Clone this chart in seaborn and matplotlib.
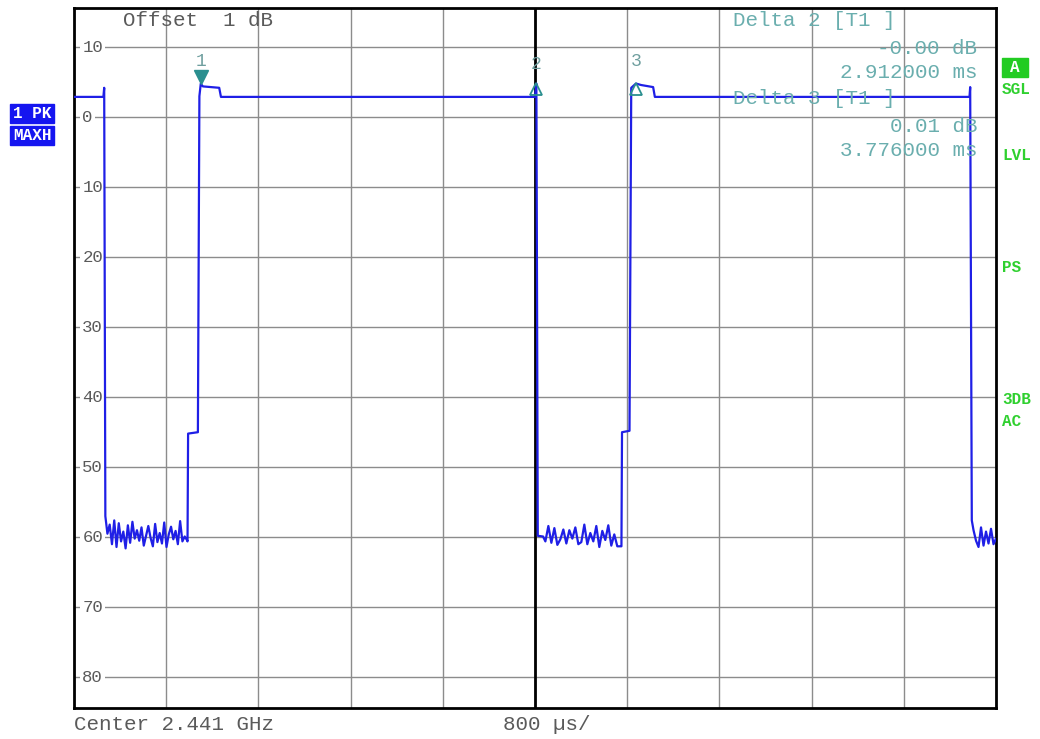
import numpy as np
import pandas as pd
import matplotlib
matplotlib.use("Agg")
import matplotlib.pyplot as plt
import matplotlib.transforms as mtransforms
from matplotlib.patches import Rectangle
import seaborn as sns

# ---- sweep / display settings ----
sweep_ms = 8.0
div_ms = 0.8
level_top_db = 15.6
level_bottom_db = -84.4
level_ticks = [10, 0, -10, -20, -30, -40, -50, -60, -70, -80]
level_tick_labels = ["10", "0", "10", "20", "30", "40", "50", "60", "70", "80"]

# ---- trace (time in ms, level in dB) ----
lead_ms = [0.000, 0.255, 0.262, 0.272]
lead_db = [2.9, 2.9, 4.2, -57.0]

noise1_db = [-59.5, -58.2, -61.0, -57.6, -61.4, -58.0, -60.6, -59.2, -61.6,
             -58.3, -60.8, -57.8, -60.2, -59.0, -60.5, -58.6, -61.2, -59.8,
             -58.4, -60.1, -61.3, -58.1, -60.7, -59.4, -60.9, -57.9, -61.4,
             -59.6, -58.5, -60.3, -59.1, -61.0, -57.7, -60.6, -59.9, -60.4]
noise1_span = (0.290, 0.980)

burst1_ms = [0.985, 0.990, 1.075, 1.088, 1.100, 1.118, 1.260, 1.275,
             4.000, 4.012, 4.024, 4.070]
burst1_db = [-60.6, -45.2, -45.0, 3.0, 4.80, 4.4, 4.2, 2.9,
             2.9, 4.798, -59.8, -59.9]

noise2_db = [-60.6, -58.4, -60.8, -58.7, -61.1, -60.3, -58.9, -60.9, -59.0,
             -60.2, -58.6, -61.0, -60.7, -58.2, -61.0, -59.4, -60.6, -58.4,
             -61.4, -59.1, -60.4, -58.3, -61.2, -59.6, -61.3, -61.3]
noise2_span = (4.090, 4.740)

burst2_ms = [4.750, 4.755, 4.820, 4.835, 4.876, 4.920, 4.990, 5.025,
             5.040, 7.770, 7.776, 7.790]
burst2_db = [-61.3, -45.0, -44.8, 4.2, 4.81, 4.6, 4.4, 4.3,
             2.9, 2.9, 4.3, -57.6]

noise3_db = [-59.0, -60.5, -61.4, -58.6, -61.2, -59.2, -60.9, -58.8, -61.0, -60.2]
noise3_span = (7.805, 8.000)

# ---- markers ----
marker_names = ["1", "2", "3"]
marker_ms = [1.100, 4.012, 4.876]

trace_ms = np.concatenate([
    lead_ms,
    np.linspace(*noise1_span, len(noise1_db)),
    burst1_ms,
    np.linspace(*noise2_span, len(noise2_db)),
    burst2_ms,
    np.linspace(*noise3_span, len(noise3_db)),
])
trace_db = np.concatenate([lead_db, noise1_db, burst1_db, noise2_db, burst2_db, noise3_db])
trace = pd.DataFrame({"ms": trace_ms, "db": trace_db})
marker_db = [float(np.interp(t, trace_ms, trace_db)) for t in marker_ms]

# ---- styling ----
W, H = 1040, 739
sns.set_style("white")
plt.rcParams["font.family"] = ["Liberation Mono", "DejaVu Sans Mono"]

fig = plt.figure(figsize=(W / 100, H / 100), dpi=100)
ax = fig.add_axes([74 / W, 1 - 708 / H, (996 - 74) / W, (708 - 8) / H])

trace_col = "#1f1fe6"
marker_col = "#2a8f8f"
info_col = "#6aaeae"
text_col = "#5a5a5a"
grid_col = "#8c8c8c"
status_col = "#2fd02f"

sns.lineplot(data=trace, x="ms", y="db", ax=ax, sort=False, estimator=None,
             color=trace_col, linewidth=1.6, zorder=3)

ax.set_xlim(0, sweep_ms)
ax.set_ylim(level_bottom_db, level_top_db)
ax.set_xticks(np.arange(0, sweep_ms + 1e-9, div_ms))
ax.set_yticks(level_ticks)
ax.tick_params(length=0, labelbottom=False, labelleft=False)
ax.set_xlabel("")
ax.set_ylabel("")
ax.grid(True, color=grid_col, linewidth=1.0)
ax.set_axisbelow(True)
ax.axvline(sweep_ms / 2, color="black", linewidth=2.0, zorder=2)
for s in ax.spines.values():
    s.set_color("black")
    s.set_linewidth(2.0)

# level scale labels inside the grid
blend = mtransforms.blended_transform_factory(ax.transAxes, ax.transData)
for v, lab in zip(level_ticks, level_tick_labels):
    ax.text(0.009, v, lab, transform=blend, ha="left", va="center",
            fontsize=12.5, color=text_col, zorder=1.5,
            bbox=dict(boxstyle="square,pad=0.12", fc="white", ec="none"))

# markers: reference marker filled, delta markers hollow
down_tf = mtransforms.offset_copy(ax.transData, fig=fig, y=5, units="points")
up_tf = mtransforms.offset_copy(ax.transData, fig=fig, y=-4, units="points")
ax.plot(marker_ms[0], marker_db[0], marker="v", markersize=10, color=marker_col,
        transform=down_tf, zorder=4)
for t, v in zip(marker_ms[1:], marker_db[1:]):
    ax.plot(t, v, marker="^", markersize=8, markerfacecolor="none",
            markeredgecolor=marker_col, markeredgewidth=1.3,
            transform=up_tf, zorder=4)
for name, t, v, dy in zip(marker_names, marker_ms, marker_db, [16, 14, 16]):
    ax.annotate(name, (t, v), xytext=(0, dy), textcoords="offset points",
                ha="center", va="center", fontsize=13, color="#6f9f9f", zorder=4)

# marker readout
def fx(px):
    return px / W

def fy(py):
    return 1 - py / H

delta_ms = [m - marker_ms[0] for m in marker_ms]
delta_db = [d - marker_db[0] for d in marker_db]
readout = [
    (20, f"Delta {marker_names[1]} [T1 ]", "left", 733),
    (48, f"{delta_db[1]:.2f} dB", "right", 977),
    (73, f"{delta_ms[1]:.6f} ms", "right", 977),
    (99, f"Delta {marker_names[2]} [T1 ]", "left", 733),
    (126, f"{delta_db[2]:.2f} dB", "right", 977),
    (151, f"{delta_ms[2]:.6f} ms", "right", 977),
]
for py, txt, ha, px in readout:
    fig.text(fx(px), fy(py), txt, ha=ha, va="center", fontsize=15,
             color=info_col, zorder=1)

fig.text(fx(123), fy(20), "Offset  1 dB", ha="left", va="center",
         fontsize=15, color=text_col)
fig.text(fx(74), fy(725), "Center 2.441 GHz", ha="left", va="center",
         fontsize=15, color=text_col)
fig.text(fx(503), fy(725), "800 \u00b5s/", ha="left", va="center",
         fontsize=15, color=text_col)

# trace mode badges
for (y0, y1), lab in zip([(104, 123), (126, 145)], ["1 PK", "MAXH"]):
    fig.patches.append(Rectangle((fx(10), fy(y1)), (54 - 10) / W, (y1 - y0) / H,
                                 transform=fig.transFigure, color="#1515f0"))
    fig.text(fx(32), fy((y0 + y1) / 2), lab, ha="center", va="center",
             fontsize=11.5, fontweight="bold", color="white")

# status column
fig.patches.append(Rectangle((fx(1002), fy(77)), 26 / W, 19 / H,
                             transform=fig.transFigure, color="#22cc22"))
fig.text(fx(1015), fy(67.5), "A", ha="center", va="center", fontsize=11.5,
         fontweight="bold", color="white")
for py, lab in [(89, "SGL"), (155, "LVL"), (267, "PS"), (400, "3DB"), (422, "AC")]:
    fig.text(fx(1002), fy(py), lab, ha="left", va="center", fontsize=11.5,
             fontweight="bold", color=status_col)

fig.savefig("out.png", dpi=100, facecolor="white")
